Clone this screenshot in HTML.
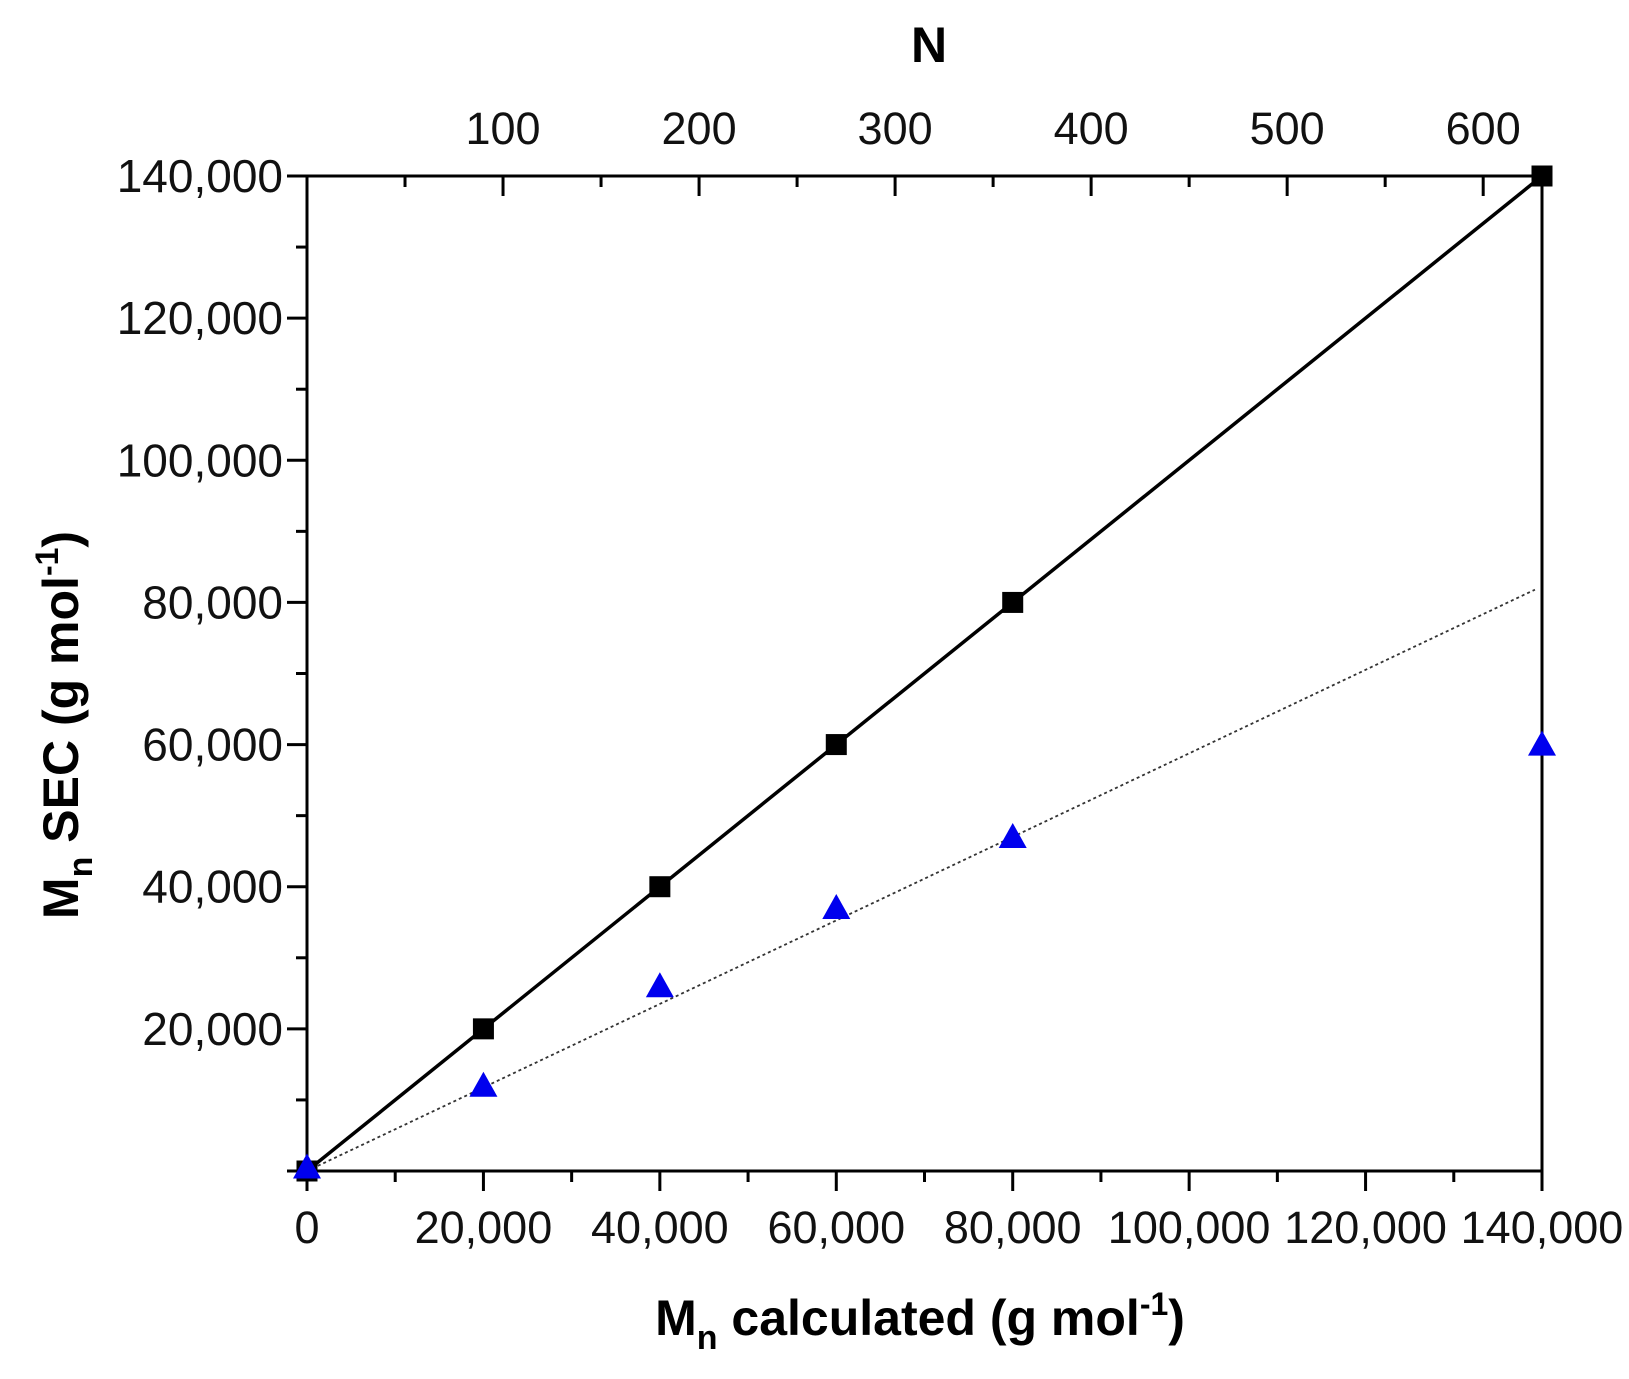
<!DOCTYPE html>
<html><head><meta charset="utf-8"><style>
html,body{margin:0;padding:0;background:#fff}
svg{display:block;font-family:"Liberation Sans",Arial,sans-serif}
</style></head><body>
<svg id="chart" width="1629" height="1379" viewBox="0 0 1629 1379"></svg>
<script>
const xTicks=[0,20000,40000,60000,80000,100000,120000,140000];
const yTicks=[20000,40000,60000,80000,100000,120000,140000];
const nTicks=[100,200,300,400,500,600];
const xCalc=[0,20000,40000,60000,80000,140000];
const ySquares=[0,20000,40000,60000,80000,140000];
const xTri=[0,20000,40000,60000,80000,140000];
const yTri=[500,12000,26000,37000,47000,60000];
const fitX=[0,139200];
const fitY=[0,81800];
const X0=307,X1=1542,Y0=1171,Y1=176;
const sx=v=>X0+(v/140000)*(X1-X0);
const sy=v=>Y0-(v/140000)*(Y0-Y1);
const nPerX=0.0045;
const sn=n=>sx(n/nPerX);
const NS="http://www.w3.org/2000/svg";
const svg=document.getElementById('chart');
function mk(t,a,p){const e=document.createElementNS(NS,t);for(const k in a)e.setAttribute(k,a[k]);(p||svg).appendChild(e);return e;}
const fmt=v=>v.toLocaleString('en-US');
let e=mk('rect',{x:X0,y:Y1,width:X1-X0,height:Y0-Y1,fill:'none',stroke:'#000','stroke-width':3});


for(let v=0;v<=140000;v+=10000){
 const major=v%20000===0;
 e=mk('line',{x1:sx(v),x2:sx(v),y1:Y0,y2:Y0+(major?20:11),stroke:'#000','stroke-width':3});
 
 
}
xTicks.forEach(v=>{
 e=mk('text',{x:sx(v),y:Y0+72,'text-anchor':'middle','font-size':45,fill:'#111'});
 e.textContent=fmt(v);
 
 
});
for(let v=0;v<=140000;v+=10000){
 const major=v%20000===0;
 e=mk('line',{x1:X0-(major?20:11),x2:X0,y1:sy(v),y2:sy(v),stroke:'#000','stroke-width':3});
 
 
}
yTicks.forEach(v=>{
 e=mk('text',{x:X0-24,y:sy(v)+16,'text-anchor':'end','font-size':46,fill:'#111'});
 e.textContent=fmt(v);
 
 
});
for(let n=50;n<=600;n+=50){
 const major=n%100===0;
 e=mk('line',{x1:sn(n),x2:sn(n),y1:Y1,y2:Y1+(major?20:11),stroke:'#000','stroke-width':3});
 
 
}
nTicks.forEach(n=>{
 e=mk('text',{x:sn(n),y:Y1-32,'text-anchor':'middle','font-size':45,fill:'#111'});
 e.textContent=n;
 
 
});
e=mk('text',{x:929,y:62,'text-anchor':'middle','font-size':50,'font-weight':'bold'});
e.textContent='N';


e=mk('text',{x:920,y:1335,'text-anchor':'middle','font-size':50,'font-weight':'bold'});
e.innerHTML='M<tspan font-size="34" dy="14">n</tspan><tspan dy="-14"> calculated (g mol</tspan><tspan font-size="32" dy="-20">-1</tspan><tspan dy="20">)</tspan>';


e=mk('text',{x:0,y:0,'text-anchor':'middle','font-size':50,'font-weight':'bold',transform:'translate(78,725) rotate(-90)'});
e.innerHTML='M<tspan font-size="34" dy="14">n</tspan><tspan dy="-14"> SEC (g mol</tspan><tspan font-size="32" dy="-20">-1</tspan><tspan dy="20">)</tspan>';


e=mk('line',{x1:sx(xCalc[0]),y1:sy(ySquares[0]),x2:sx(xCalc[xCalc.length-1]),y2:sy(ySquares[ySquares.length-1]),stroke:'#000','stroke-width':3.5});


e=mk('line',{x1:sx(fitX[0]),y1:sy(fitY[0]),x2:sx(fitX[1]),y2:sy(fitY[1]),stroke:'#333','stroke-width':1.8,'stroke-dasharray':'3,3'});


xCalc.forEach((v,i)=>{
 e=mk('rect',{x:sx(v)-10.5,y:sy(ySquares[i])-10.5,width:21,height:21,fill:'#000'});
 
 
});
xTri.forEach((v,i)=>{
 const cx=sx(v),cy=sy(yTri[i]);
 e=mk('polygon',{points:`${cx},${cy-14} ${cx-14},${cy+11} ${cx+14},${cy+11}`,fill:'#0000ee'});
 
 
});
</script>
</body></html>
